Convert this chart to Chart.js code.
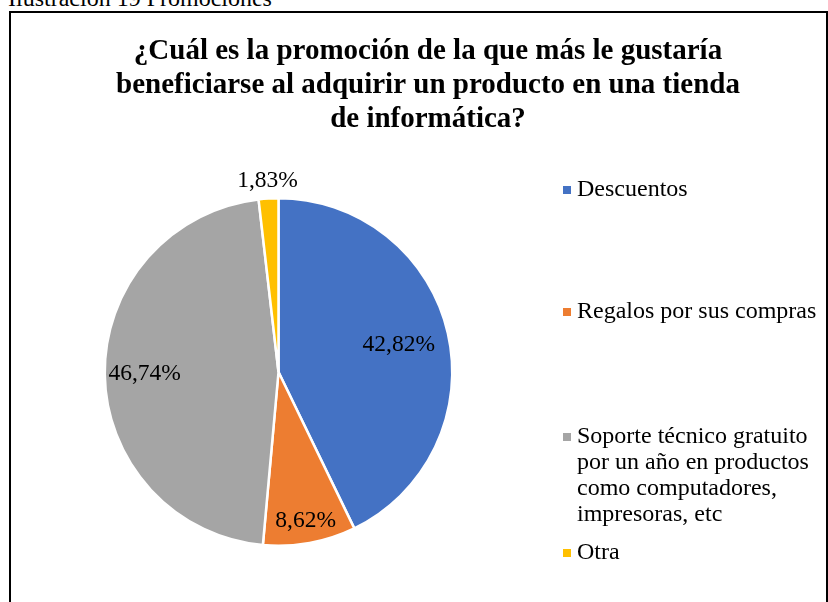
<!DOCTYPE html>
<html>
<head>
<meta charset="utf-8">
<script src="https://cdn.jsdelivr.net/npm/chart.js@4"></script>
<style>
  body { margin: 0; background: #fff; overflow: hidden; }
  #caption {
    position: absolute; left: 8px; top: -15.5px; line-height: 24px;
    font: 24px "Liberation Serif", serif; color: #000; white-space: nowrap;
  }
  #frame {
    position: absolute; left: 9px; top: 11px; width: 815px; height: 700px;
    border: 2px solid #000;
  }
  #wrap { position: absolute; left: 0; top: 0; width: 828px; height: 602px; }
</style>
</head>
<body>
<div id="caption">Ilustración 19 Promociones</div>
<div id="frame"></div>
<div id="wrap"><canvas id="chart-1"></canvas></div>
<script>
// data
var categories = [
    "Descuentos",
    "Regalos por sus compras",
    "Soporte técnico gratuito por un año en productos como computadores, impresoras, etc",
    "Otra"
];
var legendLines = [
    ["Descuentos"],
    ["Regalos por sus compras"],
    ["Soporte técnico gratuito", "por un año en productos", "como computadores,", "impresoras, etc"],
    ["Otra"]
];
var percentValues = [42.82, 8.62, 46.74, 1.83];
var sliceColors = ["#4472C4", "#ED7D31", "#A5A5A5", "#FFC000"];
var titleLines = [
    "¿Cuál es la promoción de la que más le gustaría",
    "beneficiarse al adquirir un producto en una tienda",
    "de informática?"
];

// where each label sits along the slice radius (1 = edge)
var labelRadius = [0.71, 0.87, 0.77, 1.1];

var serif = '"Liberation Serif", "Times New Roman", serif';

var extrasPlugin = {
    id: "extras",
    afterDraw: function (chart) {
        var ctx = chart.ctx;
        ctx.save();

        // title
        ctx.fillStyle = "#000";
        ctx.font = "bold 29px " + serif;
        ctx.textAlign = "center";
        ctx.textBaseline = "alphabetic";
        titleLines.forEach(function (line, i) {
            ctx.fillText(line, 428, 59 + i * 34);
        });

        // data labels
        ctx.font = "23.5px " + serif;
        ctx.textBaseline = "middle";
        var arcs = chart.getDatasetMeta(0).data;
        arcs.forEach(function (arc, i) {
            var mid = (arc.startAngle + arc.endAngle) / 2;
            var r = arc.outerRadius * labelRadius[i];
            var x = arc.x + Math.cos(mid) * r;
            var y = arc.y + Math.sin(mid) * r;
            var txt = percentValues[i].toFixed(2).replace(".", ",") + "%";
            ctx.fillText(txt, x, y);
        });

        // legend
        var rows = [190, 312, 437, 553];
        ctx.font = "24px " + serif;
        ctx.textAlign = "left";
        legendLines.forEach(function (lines, i) {
            ctx.fillStyle = sliceColors[i];
            ctx.fillRect(563, rows[i] - 4, 8, 8);
            ctx.fillStyle = "#000";
            lines.forEach(function (line, j) {
                ctx.fillText(line, 577, rows[i] + j * 26);
            });
        });
        ctx.restore();
    }
};

new Chart("chart-1", {
    type: "pie",
    data: {
        labels: categories,
        datasets: [{
            data: percentValues,
            backgroundColor: sliceColors,
            borderColor: "#fff",
            borderWidth: 2.5
        }]
    },
    options: {
        responsive: true,
        maintainAspectRatio: false,
        animation: false,
        layout: { padding: { left: 103.5, right: 374.5, top: 197, bottom: 55 } },
        plugins: {
            legend: { display: false },
            tooltip: { enabled: false },
            title: { display: false }
        }
    },
    plugins: [extrasPlugin]
});
</script>
</body>
</html>
